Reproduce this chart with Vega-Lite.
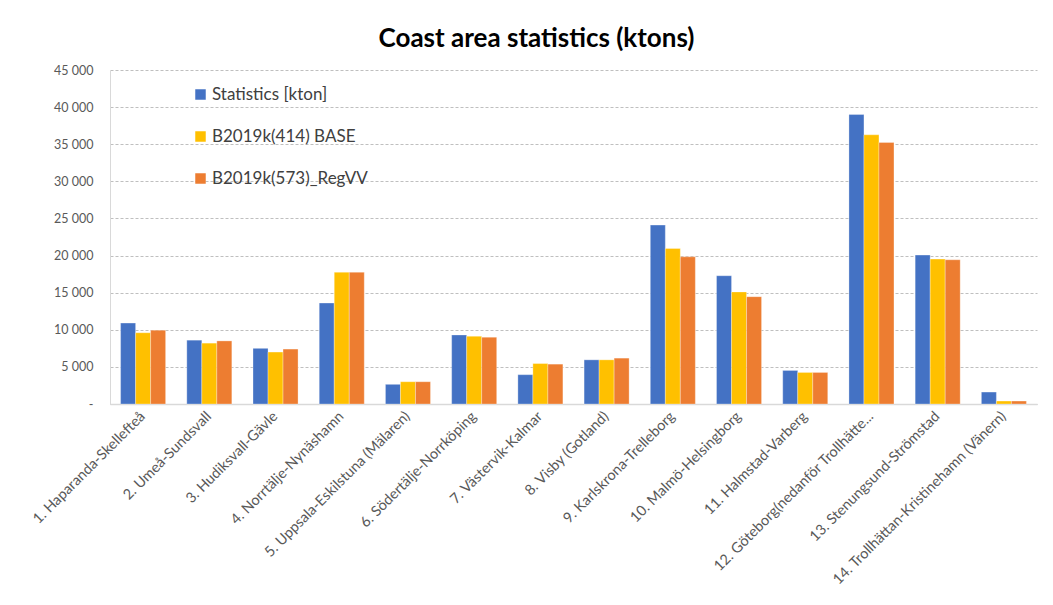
{
  "$schema": "https://vega.github.io/schema/vega-lite/v6.json",
  "width": 927,
  "height": 334,
  "autosize": "none",
  "padding": {"left": 110, "top": 70, "right": 16, "bottom": 201},
  "background": "white",
  "config": {
    "font": "Lato",
    "view": {"stroke": null},
    "locale": {"number": {"decimal": ",", "thousands": " ", "grouping": [3], "currency": ["", ""]}}
  },
  "title": {
    "text": "Coast area statistics (ktons)",
    "fontSize": 26,
    "fontWeight": "bold",
    "color": "#000000",
    "font": "Lato",
    "anchor": "middle",
    "dx": -37,
    "offset": 12
  },
  "data": {
    "values": [
      {"region": "1. Haparanda-Skellefteå", "series": "Statistics [kton]", "value": 10900},
      {"region": "1. Haparanda-Skellefteå", "series": "B2019k(414) BASE", "value": 9600},
      {"region": "1. Haparanda-Skellefteå", "series": "B2019k(573)_RegVV", "value": 9950},
      {"region": "2. Umeå-Sundsvall", "series": "Statistics [kton]", "value": 8600},
      {"region": "2. Umeå-Sundsvall", "series": "B2019k(414) BASE", "value": 8200},
      {"region": "2. Umeå-Sundsvall", "series": "B2019k(573)_RegVV", "value": 8500},
      {"region": "3. Hudiksvall-Gävle", "series": "Statistics [kton]", "value": 7500},
      {"region": "3. Hudiksvall-Gävle", "series": "B2019k(414) BASE", "value": 7000},
      {"region": "3. Hudiksvall-Gävle", "series": "B2019k(573)_RegVV", "value": 7400},
      {"region": "4. Norrtälje-Nynäshamn", "series": "Statistics [kton]", "value": 13600},
      {"region": "4. Norrtälje-Nynäshamn", "series": "B2019k(414) BASE", "value": 17750},
      {"region": "4. Norrtälje-Nynäshamn", "series": "B2019k(573)_RegVV", "value": 17750},
      {"region": "5. Uppsala-Eskilstuna (Mälaren)", "series": "Statistics [kton]", "value": 2650},
      {"region": "5. Uppsala-Eskilstuna (Mälaren)", "series": "B2019k(414) BASE", "value": 3000},
      {"region": "5. Uppsala-Eskilstuna (Mälaren)", "series": "B2019k(573)_RegVV", "value": 3000},
      {"region": "6. Södertälje-Norrköping", "series": "Statistics [kton]", "value": 9300},
      {"region": "6. Södertälje-Norrköping", "series": "B2019k(414) BASE", "value": 9130},
      {"region": "6. Södertälje-Norrköping", "series": "B2019k(573)_RegVV", "value": 9000},
      {"region": "7. Västervik-Kalmar", "series": "Statistics [kton]", "value": 3950},
      {"region": "7. Västervik-Kalmar", "series": "B2019k(414) BASE", "value": 5450},
      {"region": "7. Västervik-Kalmar", "series": "B2019k(573)_RegVV", "value": 5370},
      {"region": "8. Visby (Gotland)", "series": "Statistics [kton]", "value": 5950},
      {"region": "8. Visby (Gotland)", "series": "B2019k(414) BASE", "value": 5950},
      {"region": "8. Visby (Gotland)", "series": "B2019k(573)_RegVV", "value": 6180},
      {"region": "9. Karlskrona-Trelleborg", "series": "Statistics [kton]", "value": 24100},
      {"region": "9. Karlskrona-Trelleborg", "series": "B2019k(414) BASE", "value": 20950},
      {"region": "9. Karlskrona-Trelleborg", "series": "B2019k(573)_RegVV", "value": 19830},
      {"region": "10. Malmö-Helsingborg", "series": "Statistics [kton]", "value": 17280},
      {"region": "10. Malmö-Helsingborg", "series": "B2019k(414) BASE", "value": 15100},
      {"region": "10. Malmö-Helsingborg", "series": "B2019k(573)_RegVV", "value": 14460},
      {"region": "11. Halmstad-Varberg", "series": "Statistics [kton]", "value": 4520},
      {"region": "11. Halmstad-Varberg", "series": "B2019k(414) BASE", "value": 4250},
      {"region": "11. Halmstad-Varberg", "series": "B2019k(573)_RegVV", "value": 4250},
      {"region": "12. Göteborg(nedanför Trollhätte...", "series": "Statistics [kton]", "value": 39000},
      {"region": "12. Göteborg(nedanför Trollhätte...", "series": "B2019k(414) BASE", "value": 36270},
      {"region": "12. Göteborg(nedanför Trollhätte...", "series": "B2019k(573)_RegVV", "value": 35240},
      {"region": "13. Stenungsund-Strömstad", "series": "Statistics [kton]", "value": 20060},
      {"region": "13. Stenungsund-Strömstad", "series": "B2019k(414) BASE", "value": 19520},
      {"region": "13. Stenungsund-Strömstad", "series": "B2019k(573)_RegVV", "value": 19430},
      {"region": "14. Trollhättan-Kristinehamn (Vänern)", "series": "Statistics [kton]", "value": 1610},
      {"region": "14. Trollhättan-Kristinehamn (Vänern)", "series": "B2019k(414) BASE", "value": 400},
      {"region": "14. Trollhättan-Kristinehamn (Vänern)", "series": "B2019k(573)_RegVV", "value": 400}
    ]
  },
  "mark": {"type": "bar", "stroke": "white", "strokeWidth": 0.5, "strokeOpacity": 0.6},
  "encoding": {
    "x": {
      "field": "region",
      "type": "nominal",
      "sort": null,
      "title": null,
      "scale": {"paddingInner": 0.32, "paddingOuter": 0.16},
      "axis": {
        "labelAngle": -45,
        "labelAlign": "right",
        "labelBaseline": "middle",
        "labelFontSize": 14.5,
        "labelColor": "#595959",
        "labelPadding": 10,
        "labelLimit": 400,
        "ticks": false,
        "domainColor": "#D9D9D9",
        "domainWidth": 1.5,
        "grid": false
      }
    },
    "xOffset": {
      "field": "series",
      "type": "nominal",
      "sort": ["Statistics [kton]", "B2019k(414) BASE", "B2019k(573)_RegVV"],
      "scale": {"paddingInner": 0, "paddingOuter": 0}
    },
    "y": {
      "field": "value",
      "type": "quantitative",
      "title": null,
      "scale": {"domain": [0, 45000], "nice": false},
      "axis": {
        "values": [0, 5000, 10000, 15000, 20000, 25000, 30000, 35000, 40000, 45000],
        "labelExpr": "datum.value == 0 ? '-        ' : format(datum.value, ',d')",
        "labelFontSize": 12.5,
        "labelColor": "#595959",
        "labelPadding": 17,
        "ticks": false,
        "domain": true,
        "domainColor": "#D9D9D9",
        "grid": true,
        "gridColor": "#BFBFBF",
        "gridDash": [3, 2],
        "gridWidth": 1
      }
    },
    "color": {
      "field": "series",
      "type": "nominal",
      "scale": {
        "domain": ["Statistics [kton]", "B2019k(414) BASE", "B2019k(573)_RegVV"],
        "range": ["#4472C4", "#FFC000", "#ED7D31"]
      },
      "legend": {
        "title": null,
        "orient": "none",
        "legendX": 82,
        "legendY": 16,
        "symbolType": "square",
        "symbolSize": 110,
        "symbolStrokeWidth": 0,
        "labelFontSize": 17,
        "labelColor": "#404040",
        "rowPadding": 24,
        "labelOffset": 3
      }
    }
  }
}
